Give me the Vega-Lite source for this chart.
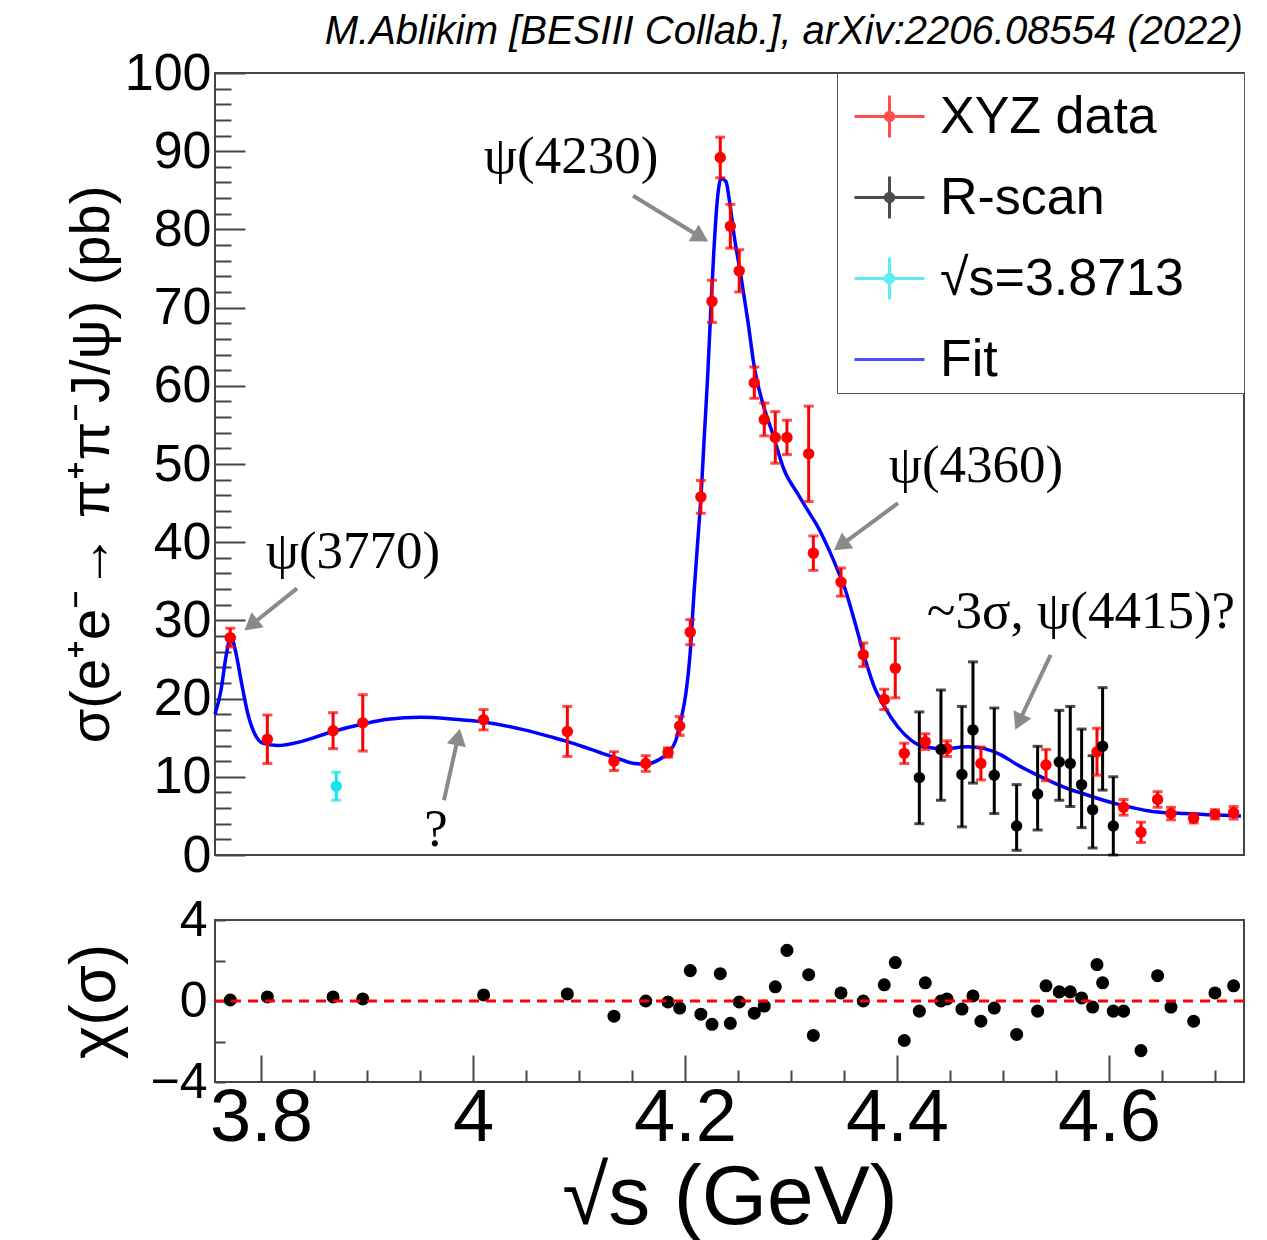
{
  "$schema": "https://vega.github.io/schema/vega-lite/v6.json",
  "background": "white",
  "padding": {"left": 62, "top": 12, "right": 24, "bottom": 0},
  "title": {"text": "M.Ablikim [BESIII Collab.], arXiv:2206.08554 (2022)", "anchor": "end", "font": "Liberation Sans", "fontStyle": "italic", "fontWeight": "normal", "fontSize": 40, "color": "black", "offset": -6, "dx": -6},
  "spacing": 65,
  "bounds": "flush",
  "resolve": {"scale": {"color": "independent", "fill": "independent", "stroke": "independent", "shape": "independent"}},
  "config": {
    "view": {"stroke": "#444", "strokeWidth": 2},
    "axis": {"labelFont": "Liberation Sans", "titleFont": "Liberation Sans", "titleFontWeight": "normal", "labelColor": "black", "titleColor": "black", "domain": false, "grid": false, "tickColor": "#444", "tickWidth": 2, "labelFlush": false, "labelOverlap": false, "labelBound": false}
  },
  "datasets": {
    "fit": [
      {"E": 3.7566, "s": 18.0}, {"E": 3.7623, "s": 21.1}, {"E": 3.767, "s": 25.4}, {"E": 3.7717, "s": 27.9},
      {"E": 3.7764, "s": 25.8}, {"E": 3.7811, "s": 22.4}, {"E": 3.7875, "s": 18.1}, {"E": 3.7937, "s": 15.6},
      {"E": 3.8016, "s": 14.3}, {"E": 3.8158, "s": 14.0}, {"E": 3.8377, "s": 14.5}, {"E": 3.8679, "s": 15.8},
      {"E": 3.8962, "s": 16.75}, {"E": 3.9195, "s": 17.35}, {"E": 3.9509, "s": 17.6}, {"E": 3.9824, "s": 17.35},
      {"E": 4.0101, "s": 17.0}, {"E": 4.0484, "s": 16.0}, {"E": 4.0736, "s": 15.1}, {"E": 4.0893, "s": 14.5},
      {"E": 4.1113, "s": 13.5}, {"E": 4.1333, "s": 12.5}, {"E": 4.1522, "s": 11.7}, {"E": 4.1632, "s": 11.6},
      {"E": 4.1742, "s": 12.1}, {"E": 4.1842, "s": 13.1}, {"E": 4.1915, "s": 14.7}, {"E": 4.1962, "s": 17.3},
      {"E": 4.2009, "s": 20.7}, {"E": 4.2047, "s": 25.5}, {"E": 4.2085, "s": 33.5}, {"E": 4.2135, "s": 42.8},
      {"E": 4.2151, "s": 45.8}, {"E": 4.2182, "s": 53.5}, {"E": 4.2214, "s": 61.2}, {"E": 4.2245, "s": 70.1},
      {"E": 4.2271, "s": 76.9}, {"E": 4.2302, "s": 83.3}, {"E": 4.234, "s": 86.5}, {"E": 4.2387, "s": 86.1},
      {"E": 4.2418, "s": 83.8}, {"E": 4.2465, "s": 79.1}, {"E": 4.2528, "s": 74.0}, {"E": 4.2592, "s": 68.4},
      {"E": 4.2654, "s": 62.4}, {"E": 4.2733, "s": 57.8}, {"E": 4.2827, "s": 53.9}, {"E": 4.2937, "s": 49.2},
      {"E": 4.3063, "s": 46.2}, {"E": 4.3189, "s": 43.4}, {"E": 4.3252, "s": 42.0}, {"E": 4.3346, "s": 39.4},
      {"E": 4.3441, "s": 36.4}, {"E": 4.3503, "s": 34.3}, {"E": 4.3597, "s": 30.05}, {"E": 4.3692, "s": 25.4},
      {"E": 4.3786, "s": 21.5}, {"E": 4.388, "s": 19.0}, {"E": 4.4007, "s": 16.4}, {"E": 4.4132, "s": 14.7},
      {"E": 4.4258, "s": 13.85}, {"E": 4.4446, "s": 13.6}, {"E": 4.4667, "s": 13.85}, {"E": 4.4824, "s": 13.6},
      {"E": 4.4981, "s": 12.8}, {"E": 4.5139, "s": 11.5}, {"E": 4.5295, "s": 10.4}, {"E": 4.5453, "s": 9.4},
      {"E": 4.561, "s": 8.5}, {"E": 4.5767, "s": 7.8}, {"E": 4.5925, "s": 7.1}, {"E": 4.6082, "s": 6.5},
      {"E": 4.6239, "s": 6.0}, {"E": 4.6396, "s": 5.6}, {"E": 4.6554, "s": 5.4}, {"E": 4.6711, "s": 5.3},
      {"E": 4.6868, "s": 5.2}, {"E": 4.7026, "s": 5.1}, {"E": 4.7245, "s": 5.0}
    ],
    "pts": [
      {"series": "XYZ data", "E": 3.771, "s": 27.8, "lo": 26.6, "hi": 29.0},
      {"series": "XYZ data", "E": 3.806, "s": 14.8, "lo": 11.7, "hi": 17.9},
      {"series": "XYZ data", "E": 3.868, "s": 15.9, "lo": 13.6, "hi": 18.2},
      {"series": "XYZ data", "E": 3.896, "s": 16.9, "lo": 13.3, "hi": 20.5},
      {"series": "XYZ data", "E": 4.010, "s": 17.3, "lo": 16.0, "hi": 18.6},
      {"series": "XYZ data", "E": 4.089, "s": 15.8, "lo": 12.6, "hi": 19.0},
      {"series": "XYZ data", "E": 4.133, "s": 12.0, "lo": 10.8, "hi": 13.2},
      {"series": "XYZ data", "E": 4.163, "s": 11.7, "lo": 10.7, "hi": 12.7},
      {"series": "XYZ data", "E": 4.184, "s": 13.1, "lo": 12.5, "hi": 13.7},
      {"series": "XYZ data", "E": 4.195, "s": 16.5, "lo": 15.3, "hi": 17.7},
      {"series": "XYZ data", "E": 4.205, "s": 28.5, "lo": 26.9, "hi": 30.1},
      {"series": "XYZ data", "E": 4.215, "s": 45.8, "lo": 43.7, "hi": 47.9},
      {"series": "XYZ data", "E": 4.2255, "s": 70.8, "lo": 68.1, "hi": 73.5},
      {"series": "XYZ data", "E": 4.2333, "s": 89.2, "lo": 86.6, "hi": 91.8},
      {"series": "XYZ data", "E": 4.2428, "s": 80.4, "lo": 77.6, "hi": 83.2},
      {"series": "XYZ data", "E": 4.2512, "s": 74.7, "lo": 72.0, "hi": 77.4},
      {"series": "XYZ data", "E": 4.2654, "s": 60.4, "lo": 58.4, "hi": 62.4},
      {"series": "XYZ data", "E": 4.2748, "s": 55.7, "lo": 53.6, "hi": 57.8},
      {"series": "XYZ data", "E": 4.2852, "s": 53.4, "lo": 50.1, "hi": 56.7},
      {"series": "XYZ data", "E": 4.2962, "s": 53.4, "lo": 51.2, "hi": 55.6},
      {"series": "XYZ data", "E": 4.3167, "s": 51.3, "lo": 45.2, "hi": 57.4},
      {"series": "XYZ data", "E": 4.3211, "s": 38.6, "lo": 36.4, "hi": 40.8},
      {"series": "XYZ data", "E": 4.3472, "s": 34.9, "lo": 33.1, "hi": 36.7},
      {"series": "XYZ data", "E": 4.3682, "s": 25.6, "lo": 24.1, "hi": 27.1},
      {"series": "XYZ data", "E": 4.388, "s": 19.9, "lo": 18.6, "hi": 21.2},
      {"series": "XYZ data", "E": 4.3984, "s": 23.9, "lo": 20.1, "hi": 27.7},
      {"series": "XYZ data", "E": 4.4069, "s": 13.0, "lo": 11.7, "hi": 14.3},
      {"series": "XYZ data", "E": 4.4267, "s": 14.5, "lo": 13.5, "hi": 15.5},
      {"series": "XYZ data", "E": 4.4472, "s": 13.6, "lo": 12.6, "hi": 14.6},
      {"series": "XYZ data", "E": 4.4792, "s": 11.7, "lo": 9.6, "hi": 13.8},
      {"series": "XYZ data", "E": 4.5406, "s": 11.5, "lo": 9.5, "hi": 13.5},
      {"series": "XYZ data", "E": 4.5887, "s": 13.2, "lo": 10.2, "hi": 16.2},
      {"series": "XYZ data", "E": 4.6138, "s": 6.1, "lo": 5.1, "hi": 7.1},
      {"series": "XYZ data", "E": 4.6302, "s": 2.9, "lo": 1.6, "hi": 4.2},
      {"series": "XYZ data", "E": 4.6459, "s": 7.1, "lo": 6.1, "hi": 8.1},
      {"series": "XYZ data", "E": 4.6585, "s": 5.3, "lo": 4.5, "hi": 6.1},
      {"series": "XYZ data", "E": 4.6799, "s": 4.7, "lo": 4.1, "hi": 5.3},
      {"series": "XYZ data", "E": 4.7, "s": 5.2, "lo": 4.6, "hi": 5.8},
      {"series": "XYZ data", "E": 4.7176, "s": 5.4, "lo": 4.6, "hi": 6.2},
      {"series": "√s=3.8713", "E": 3.871, "s": 8.8, "lo": 7.0, "hi": 10.6},
      {"series": "R-scan", "E": 4.4211, "s": 9.9, "lo": 4.0, "hi": 18.3},
      {"series": "R-scan", "E": 4.4415, "s": 13.5, "lo": 7.0, "hi": 21.1},
      {"series": "R-scan", "E": 4.4613, "s": 10.3, "lo": 3.6, "hi": 19.0},
      {"series": "R-scan", "E": 4.4717, "s": 16.0, "lo": 9.2, "hi": 24.7},
      {"series": "R-scan", "E": 4.4918, "s": 10.2, "lo": 5.3, "hi": 18.8},
      {"series": "R-scan", "E": 4.5129, "s": 3.7, "lo": 0.6, "hi": 9.0},
      {"series": "R-scan", "E": 4.5327, "s": 7.8, "lo": 3.2, "hi": 13.9},
      {"series": "R-scan", "E": 4.5531, "s": 11.9, "lo": 7.0, "hi": 18.5},
      {"series": "R-scan", "E": 4.5635, "s": 11.7, "lo": 6.2, "hi": 19.0},
      {"series": "R-scan", "E": 4.5742, "s": 9.0, "lo": 3.5, "hi": 16.1},
      {"series": "R-scan", "E": 4.5846, "s": 5.8, "lo": 0.9, "hi": 12.7},
      {"series": "R-scan", "E": 4.594, "s": 13.9, "lo": 8.3, "hi": 21.4},
      {"series": "R-scan", "E": 4.6041, "s": 3.7, "lo": 0.0, "hi": 10.0}
    ],
    "chi": [
      {"E": 3.771, "chi": 0.05}, {"E": 3.806, "chi": 0.2}, {"E": 3.868, "chi": 0.2}, {"E": 3.896, "chi": 0.1},
      {"E": 4.010, "chi": 0.3}, {"E": 4.089, "chi": 0.35}, {"E": 4.133, "chi": -0.75}, {"E": 4.163, "chi": 0.0},
      {"E": 4.184, "chi": -0.05}, {"E": 4.195, "chi": -0.35}, {"E": 4.205, "chi": 1.5}, {"E": 4.215, "chi": -0.65},
      {"E": 4.2255, "chi": -1.15}, {"E": 4.2333, "chi": 1.35}, {"E": 4.2428, "chi": -1.1}, {"E": 4.2512, "chi": -0.05},
      {"E": 4.2654, "chi": -0.6}, {"E": 4.2748, "chi": -0.25}, {"E": 4.2852, "chi": 0.7}, {"E": 4.2962, "chi": 2.5},
      {"E": 4.3167, "chi": 1.3}, {"E": 4.3211, "chi": -1.7}, {"E": 4.3472, "chi": 0.4}, {"E": 4.3682, "chi": 0.0},
      {"E": 4.388, "chi": 0.8}, {"E": 4.3984, "chi": 1.9}, {"E": 4.4069, "chi": -1.95}, {"E": 4.4211, "chi": -0.5},
      {"E": 4.4267, "chi": 0.9}, {"E": 4.4415, "chi": 0.0}, {"E": 4.4472, "chi": 0.1}, {"E": 4.4613, "chi": -0.4},
      {"E": 4.4717, "chi": 0.25}, {"E": 4.4792, "chi": -1.0}, {"E": 4.4918, "chi": -0.35}, {"E": 4.5129, "chi": -1.65},
      {"E": 4.5327, "chi": -0.5}, {"E": 4.5406, "chi": 0.75}, {"E": 4.5531, "chi": 0.45}, {"E": 4.5635, "chi": 0.45},
      {"E": 4.5742, "chi": 0.15}, {"E": 4.5846, "chi": -0.3}, {"E": 4.5887, "chi": 1.8}, {"E": 4.594, "chi": 0.9},
      {"E": 4.6041, "chi": -0.5}, {"E": 4.6138, "chi": -0.5}, {"E": 4.6302, "chi": -2.45}, {"E": 4.6459, "chi": 1.25},
      {"E": 4.6585, "chi": -0.3}, {"E": 4.6799, "chi": -1.0}, {"E": 4.7, "chi": 0.4}, {"E": 4.7176, "chi": 0.75}
    ],
    "notes": [
      {"label": "ψ(3770)", "E": 3.8868, "s": 38.7},
      {"label": "ψ(4230)", "E": 4.0925, "s": 89.3},
      {"label": "ψ(4360)", "E": 4.4745, "s": 49.7},
      {"label": "~3σ, ψ(4415)?", "E": 4.5736, "s": 31.1},
      {"label": "?", "E": 3.9651, "s": 3.2}
    ],
    "arrows": [
      {"name": "a1", "E": 3.834, "s": 34.1, "E2": 3.7906, "s2": 29.4},
      {"name": "a2", "E": 4.151, "s": 84.3, "E2": 4.215, "s2": 79.0},
      {"name": "a3", "E": 4.401, "s": 45.0, "E2": 4.347, "s2": 39.6},
      {"name": "a4", "E": 4.545, "s": 25.6, "E2": 4.515, "s2": 17.0},
      {"name": "a5", "E": 3.9726, "s": 7.0, "E2": 3.986, "s2": 15.1}
    ],
    "legendrows": [
      {"series": "XYZ data"}, {"series": "R-scan"}, {"series": "√s=3.8713"}, {"series": "Fit"}
    ]
  },
  "vconcat": [
    {
      "width": 1029,
      "height": 782,
      "encoding": {
        "x": {"field": "E", "type": "quantitative", "scale": {"domain": [3.7566, 4.7274], "nice": false, "zero": false}, "axis": null},
        "y": {"field": "s", "type": "quantitative", "scale": {"domain": [0, 100], "nice": false, "zero": false},
          "axis": {"values": [0,2,4,6,8,10,12,14,16,18,20,22,24,26,28,30,32,34,36,38,40,42,44,46,48,50,52,54,56,58,60,62,64,66,68,70,72,74,76,78,80,82,84,86,88,90,92,94,96,98,100],
            "tickSize": {"condition": {"test": "datum.value % 10 === 0", "value": -30}, "value": -16},
            "labelExpr": "datum.value % 10 === 0 ? datum.label : ''",
            "labelPadding": 34, "labelFontSize": 52, "title": "σ(e⁺e⁻→ π⁺π⁻J/ψ) (pb)", "titleFontSize": 56, "titlePadding": 4}}
      },
      "layer": [
        {"data": {"name": "fit"}, "mark": {"type": "line", "color": "#0000ff", "strokeWidth": 3.5, "interpolate": "monotone"}},
        {"data": {"name": "pts"}, "mark": {"type": "rule", "strokeWidth": 3},
          "encoding": {"y": {"field": "lo", "type": "quantitative"}, "y2": {"field": "hi"},
            "color": {"field": "series", "type": "nominal", "scale": {"domain": ["XYZ data", "R-scan", "√s=3.8713"], "range": ["#ff0000", "#000000", "#19e3f0"]}, "legend": null}}},
        {"data": {"name": "pts"}, "mark": {"type": "tick", "orient": "horizontal", "size": 10, "thickness": 3},
          "encoding": {"y": {"field": "lo", "type": "quantitative"},
            "color": {"field": "series", "type": "nominal", "legend": null}}},
        {"data": {"name": "pts"}, "mark": {"type": "tick", "orient": "horizontal", "size": 10, "thickness": 3},
          "encoding": {"y": {"field": "hi", "type": "quantitative"},
            "color": {"field": "series", "type": "nominal", "legend": null}}},
        {"data": {"name": "pts"}, "mark": {"type": "circle", "size": 130, "opacity": 1},
          "encoding": {"color": {"field": "series", "type": "nominal", "legend": null}}},
        {"data": {"name": "arrows"}, "mark": {"type": "rule", "color": "#8a8a8a", "strokeWidth": 4},
          "encoding": {"x2": {"field": "E2"}, "y2": {"field": "s2"}}},
        {"data": {"name": "arrows"}, "mark": {"type": "point", "shape": "triangle-up", "filled": true, "color": "#8a8a8a", "size": 380, "opacity": 1},
          "encoding": {"x": {"field": "E2", "type": "quantitative", "axis": null}, "y": {"field": "s2", "type": "quantitative"},
            "angle": {"field": "name", "type": "nominal", "scale": {"type": "ordinal", "domain": ["a1", "a2", "a3", "a4", "a5"], "range": [231, 121, 234, 205, 12]}, "legend": null}}},
        {"data": {"name": "notes"}, "mark": {"type": "text", "font": "Liberation Serif", "fontSize": 53, "color": "black", "align": "center", "baseline": "middle"},
          "encoding": {"text": {"field": "label"}}},
        {"data": {"name": "legendrows"}, "mark": {"type": "point", "filled": true, "strokeWidth": 3},
          "encoding": {
            "fill": {"field": "series", "type": "nominal", "scale": {"domain": ["XYZ data", "R-scan", "√s=3.8713", "Fit"], "range": ["#ff0000", "#000000", "#19e3f0", "#0000ff"]},
              "legend": {"title": null, "orient": "top-right", "offset": 0, "padding": 7, "symbolOffset": 9, "fillColor": "white", "strokeColor": "#555",
                "labelFont": "Liberation Sans", "labelFontSize": 52, "labelColor": "black", "labelLimit": 600, "labelOffset": 14,
                "symbolSize": 4900, "symbolStrokeWidth": 3, "rowPadding": 17,
                "labelExpr": "datum.label + ' \u2800'",
                "encode": {"legend": {"update": {"strokeWidth": {"value": 2}}}, "symbols": {"update": {"opacity": {"value": 1}, "strokeWidth": {"value": 3}}}}}},
            "stroke": {"field": "series", "type": "nominal", "scale": {"domain": ["XYZ data", "R-scan", "√s=3.8713", "Fit"], "range": ["#ff0000", "#000000", "#19e3f0", "#0000ff"]}},
            "shape": {"field": "series", "type": "nominal", "scale": {"domain": ["XYZ data", "R-scan", "√s=3.8713", "Fit"], "range": [
              "M-1,0H1M0,-0.6V0.6M-0.12,0A0.12,0.12,0,1,1,0.12,0A0.12,0.12,0,1,1,-0.12,0Z",
              "M-1,0H1M0,-0.6V0.6M-0.12,0A0.12,0.12,0,1,1,0.12,0A0.12,0.12,0,1,1,-0.12,0Z",
              "M-1,0H1M0,-0.6V0.6M-0.12,0A0.12,0.12,0,1,1,0.12,0A0.12,0.12,0,1,1,-0.12,0Z",
              "M-1,0H1"]}}
          }}
      ]
    },
    {
      "width": 1029,
      "height": 162,
      "layer": [
        {"data": {"name": "chi"}, "mark": {"type": "circle", "color": "black", "size": 170, "opacity": 1},
          "encoding": {
            "x": {"field": "E", "type": "quantitative", "scale": {"domain": [3.7566, 4.7274], "nice": false, "zero": false},
              "axis": {"values": [3.8,3.85,3.9,3.95,4.0,4.05,4.1,4.15,4.2,4.25,4.3,4.35,4.4,4.45,4.5,4.55,4.6,4.65,4.7],
                "tickSize": {"condition": {"test": "abs(datum.value*5 - round(datum.value*5)) < 0.001", "value": -27}, "value": -12},
                "labelExpr": "abs(datum.value*5 - round(datum.value*5)) < 0.001 ? format(datum.value, '~g') : ''",
                "labelPadding": 27, "labelFontSize": 74, "title": "√s (GeV)", "titleFontSize": 84, "titlePadding": -13}},
            "y": {"field": "chi", "type": "quantitative", "scale": {"domain": [-4, 4], "nice": false, "zero": false},
              "axis": {"values": [-4,-3,-2,-1,0,1,2,3,4], "tickSize": -10, "labelPadding": 18,
                "labelExpr": "datum.value % 4 === 0 ? datum.label : ''", "labelFontSize": 50, "title": "χ(σ)", "titleFontSize": 64, "titlePadding": 22}}
          }},
        {"data": {"values": [{}]}, "mark": {"type": "rule", "color": "#ff0000", "strokeWidth": 3, "strokeDash": [10, 7]},
          "encoding": {"y": {"datum": 0}}}
      ]
    }
  ]
}
